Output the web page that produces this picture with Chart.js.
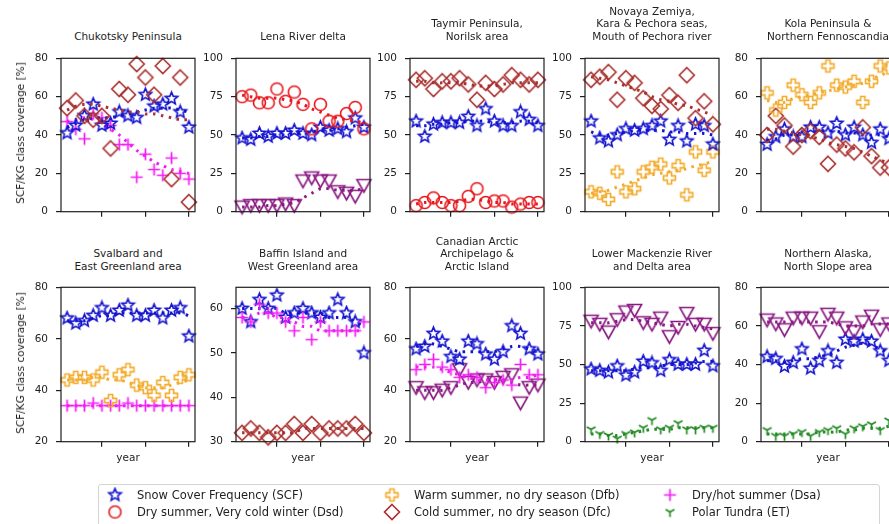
<!DOCTYPE html>
<html>
<head>
<meta charset="utf-8">
<script src="https://cdn.jsdelivr.net/npm/chart.js@4.4.0/dist/chart.umd.min.js"></script>
<style>
body { margin:0; width:889px; height:524px; overflow:hidden; background:#fff; position:relative; font-family:"DejaVu Sans", sans-serif; color:#1e1e1e; }
canvas.panel { position:absolute; }
.ttl { position:absolute; text-align:center; font-size:10.5px; line-height:12.7px; white-space:nowrap; transform:translateX(-50%); }
.ylab { position:absolute; font-size:10.5px; white-space:nowrap; transform:translate(-50%,-50%) rotate(-90deg); }
.xlab { position:absolute; font-size:10.5px; transform:translate(-50%,-50%); }
.legend { position:absolute; left:98px; top:484px; width:780px; height:50px; border:1px solid #d4d4d4; border-radius:3px; }
.item { position:absolute; font-size:11.5px; white-space:nowrap; transform:translateY(-50%); }
.icon { position:absolute; transform:translate(-50%,-50%); }
</style>
</head>
<body>
<div class="legend"></div>
<script>
// years and axis ticks
const years = [2001,2002,2003,2004,2005,2006,2007,2008,2009,2010,2011,2012,2013,2014,2015];
const xTicks = [2005, 2010, 2015];
const ticks0to80 = [0, 20, 40, 60, 80];
const ticks0to100 = [0, 25, 50, 75, 100];
const ticks20to80 = [20, 40, 60, 80];
const ticks30to60 = [30, 40, 50, 60];

/*------------------------------CHUKOTSKY--------------------------------------*/
const chukSCF = [41,45,50,56,45,46,52,50,49,61,55,56,59,52,44];
const chukDfc = [54,58,50,48,50,33,64,61,77,70,61,76,17,70,5];
const chukDsa = [47,43,38,51,49,45,35,35,18,30,22,19,28,20,17];
const chukSCFtr = [44,46,48,49,49,49,50,51,52,53,54,54,54,53,52];
const chukDfctr = [53,55,56,56,55,54,53,52,52,51,51,50,49,48,48];
const chukDsatr = [47,48,49,48,46,43,40,36,32,29,26,24,22,21,20];

/*------------------------------LENA-------------------------------------------*/
const lenaDsd = [75,76,71,71,80,72,78,70,54,70,59,59,64,68,54];
const lenaSCF = [48,47,51,49,51,51,53,51,50,55,53,54,52,61,55];
const lenaTri = [3,4,4,4,4,5,4,20,22,20,20,13,12,10,17];
const lenaDsdtr = [76,75,74,74,74,73,72,70,67,65,63,61,60,59,58];
const lenaSCFtr = [48,48,49,49,50,50,51,51,52,53,53,54,55,56,57];
const lenaTritr = [3,3,3,4,4,5,6,9,12,15,15,14,14,14,15];

/*------------------------------TAYMIR-----------------------------------------*/
const taymDfc = [86,87,80,85,85,87,83,73,84,80,83,89,86,83,86];
const taymSCF = [59,49,57,58,58,58,62,56,67,59,56,56,65,60,56];
const taymDsd = [4,6,9,6,4,4,10,15,6,7,7,3,5,6,6];
const taymDfctr = [85,85,84,84,84,84,83,82,82,82,83,84,84,84,84];
const taymSCFtr = [56,56,57,57,58,58,59,59,59,58,58,58,59,59,58];
const taymDsdtr = [5,6,6,6,6,7,8,8,7,6,6,5,5,5,5];

/*------------------------------NOVAYA ZEMLYA----------------------------------*/
const novaDfc = [86,88,91,73,87,84,74,69,67,76,71,89,61,72,57];
const novaSCF = [59,48,46,50,54,53,54,56,59,47,56,46,57,56,44];
const novaDfb = [13,12,8,26,13,15,26,29,31,22,30,11,39,27,39];
const novaDfctr = [88,87,86,84,82,80,78,75,73,72,70,69,67,65,63];
const novaSCFtr = [52,50,50,51,52,53,53,53,53,52,52,51,51,51,50];
const novaDfbtr = [12,13,14,16,18,20,22,24,25,26,27,28,30,31,33];

/*------------------------------KOLA-------------------------------------------*/
const kolaDfb = [62,53,57,66,61,57,62,76,66,65,68,57,68,76,75];
const kolaDfc = [40,50,45,34,40,42,39,25,35,33,31,44,29,23,23];
const kolaSCF = [35,39,43,39,39,44,44,41,46,40,44,40,36,43,38];
const kolaDfbtr = [58,57,57,59,60,61,62,63,64,65,66,67,69,71,73];
const kolaDfctr = [43,43,42,41,40,39,38,36,35,34,33,31,29,27,25];
const kolaSCFtr = [37,38,40,40,41,41,42,42,42,41,41,40,40,40,39];

/*------------------------------SVALBARD---------------------------------------*/
const svalSCF = [68,66,67,69,72,69,71,73,69,69,71,68,71,72,61];
const svalDfb = [44,45,45,44,47,36,46,48,42,41,38,43,38,45,46];
const svalDsa = [34,34,34,35,34,34,34,35,34,34,34,34,34,34,34];
const svalSCFtr = [67,67,67,68,69,69,70,70,70,70,70,70,70,70,69];
const svalDfbtr = [44,44,44,45,45,44,44,43,42,41,41,41,42,43,44];
const svalDsatr = [34,34,34,34,34,34,34,34,34,34,34,34,34,34,34];

/*------------------------------BAFFIN-----------------------------------------*/
const baffSCF = [60,57,62,60,63,58,59,60,59,58,59,62,59,57,50];
const baffDsa = [58,57,61,59,59,57,55,58,53,57,55,55,55,55,57];
const baffDfc = [32,33,32,31,32,32,34,32,34,32,33,33,33,34,32];
const baffSCFtr = [60,60,60,60,60,59,59,59,59,59,58,58,58,57,56];
const baffDsatr = [58,58,59,59,58,58,57,56,56,55,55,55,55,55,55];
const baffDfctr = [32,32,32,32,32,32,32,33,33,33,33,33,33,33,33];

/*------------------------------CANADIAN ARCTIC--------------------------------*/
const canaSCF = [56,57,62,59,53,52,59,58,54,52,55,65,62,56,54];
const canaDsa = [48,50,52,49,48,45,46,45,41,43,44,42,50,46,46];
const canaTri = [41,39,39,40,41,48,43,44,44,43,45,46,35,41,42];
const canaSCFtr = [57,58,58,57,56,55,55,55,55,55,56,57,57,56,55];
const canaDsatr = [49,49,49,48,47,46,45,44,44,44,44,44,45,45,46];
const canaTritr = [40,40,40,40,41,42,43,43,44,44,44,43,42,42,42];

/*------------------------------MACKENZIE--------------------------------------*/
const mackTri = [78,76,71,79,84,85,77,76,80,68,74,83,76,76,70];
const mackSCF = [47,46,45,49,43,45,52,51,46,53,50,50,50,59,49];
const mackET = [8,5,4,2,5,6,9,14,8,9,12,8,8,9,9];
const mackTritr = [77,77,77,78,79,79,78,77,76,75,76,76,75,74,73];
const mackSCFtr = [46,46,46,46,46,47,48,48,49,50,50,50,51,52,52];
const mackETtr = [5,5,4,4,5,6,7,8,8,8,9,9,9,9,9];

/*------------------------------ALASKA-----------------------------------------*/
const alasTri = [63,61,58,64,64,64,57,66,64,59,57,62,65,58,61];
const alasSCF = [44,43,39,41,48,38,42,47,41,53,52,53,52,47,42];
const alasET = [6,3,3,4,5,3,5,6,7,4,7,8,9,6,11];
const alasTritr = [62,62,62,62,62,62,62,62,61,60,60,60,61,61,61];
const alasSCFtr = [42,42,41,42,43,43,44,45,47,49,50,51,50,48,46];
const alasETtr = [4,4,4,4,4,4,5,5,5,6,6,7,7,7,8];

/*------------------------------MARKERS----------------------------------------*/
function mk(r, draw) {
    const c = document.createElement('canvas');
    const s = Math.ceil(2 * r + 4);
    c.width = s; c.height = s;
    const g = c.getContext('2d');
    g.translate(s / 2, s / 2);
    g.lineWidth = 1.6;
    g.lineJoin = 'miter';
    draw(g);
    return c;
}

const colors = {
    SCF: '#1515d0', Dsd: '#e8161c', Dfb: '#f2ab2c', Dfc: '#a8302e', Dsa: '#f21cf2', ET: '#248a24', Tri: '#8a1a82'
};

const markers = {
    SCF: mk(6.5, g => {
        g.beginPath();
        for (let i = 0; i < 10; i++) {
            const a = -Math.PI / 2 + i * Math.PI / 5;
            const rr = i % 2 ? 6.5 * 0.45 : 6.5;
            g.lineTo(rr * Math.cos(a), rr * Math.sin(a));
        }
        g.closePath(); g.strokeStyle = colors.SCF; g.stroke();
    }),
    Dsd: mk(6.5, g => {
        g.beginPath(); g.arc(0, 0, 6, 0, Math.PI * 2);
        g.strokeStyle = colors.Dsd; g.stroke();
    }),
    Dfb: mk(6.5, g => {
        const a = 6, w = 2.1;
        g.beginPath();
        g.moveTo(-w, -a); g.lineTo(w, -a); g.lineTo(w, -w); g.lineTo(a, -w); g.lineTo(a, w);
        g.lineTo(w, w); g.lineTo(w, a); g.lineTo(-w, a); g.lineTo(-w, w); g.lineTo(-a, w);
        g.lineTo(-a, -w); g.lineTo(-w, -w); g.closePath();
        g.strokeStyle = colors.Dfb; g.stroke();
    }),
    Dfc: mk(8, g => {
        g.beginPath(); g.moveTo(0, -7.5); g.lineTo(7.5, 0); g.lineTo(0, 7.5); g.lineTo(-7.5, 0); g.closePath();
        g.strokeStyle = colors.Dfc; g.stroke();
    }),
    Dsa: mk(6.5, g => {
        g.beginPath(); g.moveTo(-6, 0); g.lineTo(6, 0); g.moveTo(0, -6); g.lineTo(0, 6);
        g.strokeStyle = colors.Dsa; g.lineWidth = 1.7; g.stroke();
    }),
    ET: mk(5.5, g => {
        g.beginPath(); g.moveTo(0, 0); g.lineTo(0, 5);
        g.moveTo(0, 0); g.lineTo(-4.4, -2.6); g.moveTo(0, 0); g.lineTo(4.4, -2.6);
        g.strokeStyle = colors.ET; g.lineWidth = 1.7; g.stroke();
    }),
    Tri: mk(7.5, g => {
        g.beginPath(); g.moveTo(-7, -6); g.lineTo(7, -6); g.lineTo(0, 6.5); g.closePath();
        g.strokeStyle = colors.Tri; g.stroke();
    })
};

/*------------------------------PANELS-----------------------------------------*/
const panels = [
    { title: ['Chukotsky Peninsula'], col: 0, row: 0, min: 0, max: 80, ticks: ticks0to80,
      series: [['Dfc', chukDfc, chukDfctr], ['SCF', chukSCF, chukSCFtr], ['Dsa', chukDsa, chukDsatr]] },
    { title: ['Lena River delta'], col: 1, row: 0, min: 0, max: 100, ticks: ticks0to100,
      series: [['Dsd', lenaDsd, lenaDsdtr], ['SCF', lenaSCF, lenaSCFtr], ['Tri', lenaTri, lenaTritr]] },
    { title: ['Taymir Peninsula,', 'Norilsk area'], col: 2, row: 0, min: 0, max: 100, ticks: ticks0to100,
      series: [['Dfc', taymDfc, taymDfctr], ['SCF', taymSCF, taymSCFtr], ['Dsd', taymDsd, taymDsdtr]] },
    { title: ['Novaya Zemiya,', 'Kara & Pechora seas,', 'Mouth of Pechora river'], col: 3, row: 0, min: 0, max: 100, ticks: ticks0to100,
      series: [['Dfc', novaDfc, novaDfctr], ['SCF', novaSCF, novaSCFtr], ['Dfb', novaDfb, novaDfbtr]] },
    { title: ['Kola Peninsula &', 'Northern Fennoscandia'], col: 4, row: 0, min: 0, max: 80, ticks: ticks0to80,
      series: [['Dfb', kolaDfb, kolaDfbtr], ['Dfc', kolaDfc, kolaDfctr], ['SCF', kolaSCF, kolaSCFtr]] },
    { title: ['Svalbard and', 'East Greenland area'], col: 0, row: 1, min: 20, max: 80, ticks: ticks20to80,
      series: [['SCF', svalSCF, svalSCFtr], ['Dfb', svalDfb, svalDfbtr], ['Dsa', svalDsa, svalDsatr]] },
    { title: ['Baffin Island and', 'West Greenland area'], col: 1, row: 1, min: 30, max: 64.8, ticks: ticks30to60,
      series: [['Dsa', baffDsa, baffDsatr], ['SCF', baffSCF, baffSCFtr], ['Dfc', baffDfc, baffDfctr]] },
    { title: ['Canadian Arctic', 'Archipelago &', 'Arctic Island'], col: 2, row: 1, min: 20, max: 80, ticks: ticks20to80,
      series: [['SCF', canaSCF, canaSCFtr], ['Dsa', canaDsa, canaDsatr], ['Tri', canaTri, canaTritr]] },
    { title: ['Lower Mackenzie River', 'and Delta area'], col: 3, row: 1, min: 0, max: 100, ticks: ticks0to100,
      series: [['Tri', mackTri, mackTritr], ['SCF', mackSCF, mackSCFtr], ['ET', mackET, mackETtr]] },
    { title: ['Northern Alaska,', 'North Slope area'], col: 4, row: 1, min: 0, max: 80, ticks: ticks0to80,
      series: [['Tri', alasTri, alasTritr], ['SCF', alasSCF, alasSCFtr], ['ET', alasET, alasETtr]] }
];

const colLeft = [61, 236, 410, 585, 761];
const rowTop = [52, 281];
const rowH = [162, 163];
const plotW = 134;
const padL = 45, padT = 8, padR = 8, padB = 12;
const font = { family: '"DejaVu Sans", sans-serif', size: 10.5 };

const boxPlugin = {
    id: 'box',
    afterDraw(chart) {
        const a = chart.chartArea, c = chart.ctx;
        c.save();
        c.strokeStyle = '#1e1e1e';
        c.lineWidth = 1.2;
        c.strokeRect(a.left, a.top, a.right - a.left, a.bottom - a.top);
        c.restore();
    }
};

function addDiv(cls, text, x, y) {
    const d = document.createElement('div');
    d.className = cls;
    d.innerHTML = text;
    d.style.left = x + 'px';
    d.style.top = y + 'px';
    document.body.appendChild(d);
    return d;
}

panels.forEach(p => {
    const L = colLeft[p.col], T = rowTop[p.row], H = rowH[p.row];
    const cv = document.createElement('canvas');
    cv.className = 'panel';
    cv.width = padL + plotW + padR;
    cv.height = padT + H + padB;
    cv.style.left = (L - padL) + 'px';
    cv.style.top = (T - padT) + 'px';
    document.body.appendChild(cv);

    const datasets = [];
    p.series.forEach(([kind, vals, trend]) => {
        datasets.push({
            type: 'scatter',
            data: years.map((y, i) => ({ x: y, y: vals[i] })),
            pointStyle: markers[kind],
            pointRadius: 6,
            clip: false
        });
        datasets.push({
            type: 'line',
            data: years.map((y, i) => ({ x: y, y: trend[i] })),
            borderColor: colors[kind],
            borderWidth: 3,
            borderDash: [2.5, 5.5],
            pointRadius: 0,
            tension: 0.3,
            fill: false
        });
    });

    new Chart(cv, {
        data: { datasets: datasets },
        plugins: [boxPlugin],
        options: {
            responsive: false,
            animation: false,
            events: [],
            layout: { padding: { top: padT, right: padR, left: 0, bottom: 0 } },
            plugins: { legend: { display: false }, tooltip: { enabled: false } },
            scales: {
                x: {
                    type: 'linear', min: 2000.3, max: 2015.7,
                    afterBuildTicks: s => { s.ticks = xTicks.map(v => ({ value: v })); },
                    afterFit: s => { s.height = padB; },
                    ticks: { display: false },
                    grid: { drawOnChartArea: false, drawTicks: true, tickLength: 5, color: '#1e1e1e', lineWidth: 1.2 },
                    border: { display: false }
                },
                y: {
                    type: 'linear', min: p.min, max: p.max,
                    afterBuildTicks: s => { s.ticks = p.ticks.map(v => ({ value: v })); },
                    afterFit: s => { s.width = padL; },
                    ticks: { font: font, color: '#1e1e1e', padding: 8 },
                    grid: { drawOnChartArea: false, drawTicks: true, tickLength: 5, color: '#1e1e1e', lineWidth: 1.2 },
                    border: { display: false }
                }
            }
        }
    });

    const lastLine = p.row === 0 ? 36.5 : 266.5;
    const n = p.title.length;
    addDiv('ttl', p.title.join('<br>'), L + plotW / 2, lastLine - (n - 1) * 12.7 - 6.5);
    if (p.row === 1) addDiv('xlab', 'year', L + plotW / 2, 457);
    if (p.col === 0) addDiv('ylab', 'SCF/KG class coverage [%]', 20, T + H / 2);
});

/*------------------------------LEGEND-----------------------------------------*/
const legendItems = [
    ['SCF', 'Snow Cover Frequency (SCF)', 115, 495],
    ['Dsd', 'Dry summer, Very cold winter (Dsd)', 115, 512],
    ['Dfb', 'Warm summer, no dry season (Dfb)', 392, 495],
    ['Dfc', 'Cold summer, no dry season (Dfc)', 392, 512],
    ['Dsa', 'Dry/hot summer (Dsa)', 670, 495],
    ['ET', 'Polar Tundra (ET)', 670, 512]
];
legendItems.forEach(([kind, label, x, y]) => {
    const ic = document.createElement('canvas');
    ic.className = 'icon';
    ic.width = 18; ic.height = 18;
    const m = markers[kind];
    ic.getContext('2d').drawImage(m, (18 - m.width) / 2, (18 - m.height) / 2);
    ic.style.left = x + 'px';
    ic.style.top = y + 'px';
    document.body.appendChild(ic);
    addDiv('item', label, x + 22, y);
});
</script>
</body>
</html>
